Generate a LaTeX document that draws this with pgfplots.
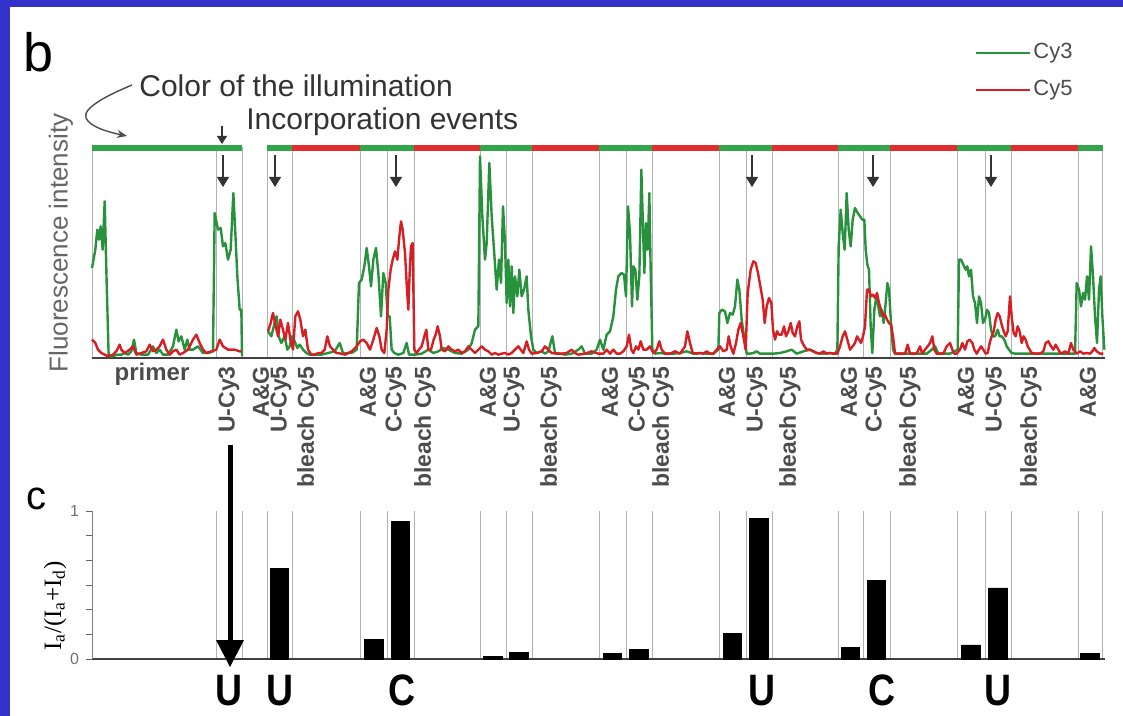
\documentclass[border=0pt]{standalone}
\usepackage{fontspec}
\setmainfont{Liberation Sans}
\newfontfamily\serif{Liberation Serif}
\usepackage{pgfplots}
\pgfplotsset{compat=1.18}
\usetikzlibrary{arrows.meta}
\definecolor{frame}{RGB}{51,51,204}
\definecolor{cythree}{RGB}{40,145,60}
\definecolor{cyfive}{RGB}{215,30,35}
\definecolor{illg}{RGB}{50,165,75}
\definecolor{illr}{RGB}{225,45,45}
\begin{document}
\begin{tikzpicture}
\begin{scope}[x=0.5pt,y=-0.5pt]
\fill[frame] (0,0) rectangle (1123,716);
\fill[white] (10,7) rectangle (1123,716);
\end{scope}

% ---------------- top panel (b) ----------------
\begin{axis}[
  at={(46pt,-179pt)}, anchor=south west, scale only axis,
  width=506.5pt, height=105.5pt,
  xmin=0, xmax=3039, ymin=0, ymax=633, clip=false,
  axis x line*=bottom, axis y line=none,
  x axis line style={black!75, line width=0.8pt},
  xtick={0,372,450,525,600,804,885,966,1164,1242,1320,1521,1602,1680,1881,1962,2040,2238,2313,2394,2595,2679,2757,2958,3030},
  xticklabels={}, xtick style={draw=none},
  xmajorgrids, major x grid style={black!30, line width=0.5pt},
  ytick=\empty, unbounded coords=jump,
]
% illumination colour bar
\addplot[illg, line width=2.6pt, line cap=butt, forget plot] coordinates {
(0,630)(450,630)(487,nan)(525,630)(600,630)(700,nan)(804,630)(966,630)(1060,nan)
(1164,630)(1320,630)(1420,nan)(1521,630)(1680,630)(1780,nan)(1881,630)(2040,630)(2140,nan)
(2238,630)(2394,630)(2490,nan)(2595,630)(2757,630)(2850,nan)(2958,630)(3033,630)};
\addplot[illr, line width=2.6pt, line cap=butt, forget plot] coordinates {
(600,630)(804,630)(880,nan)(966,630)(1164,630)(1240,nan)(1320,630)(1521,630)(1600,nan)
(1680,630)(1881,630)(1960,nan)(2040,630)(2238,630)(2310,nan)(2394,630)(2595,630)(2670,nan)
(2757,630)(2958,630)};
% Cy3 trace
\addplot[cythree, line width=1.2pt, line join=round, no markers] coordinates {
(0,270)(10,325)(16,385)(21,355)(26,395)(32,325)(38,470)(44,225)(50,5)(58,5)(78,10)(88,10)(98,15)(108,10)(118,20)(126,55)(133,15)(148,10)(168,10)(183,35)(193,15)(203,25)(213,10)(228,10)(243,35)(253,85)(260,50)(268,65)(278,25)(286,55)(293,25)(303,25)(318,35)(333,15)(348,15)(363,20)(368,435)(378,385)(386,390)(393,335)(400,345)(408,295)(416,325)(424,495)(430,375)(436,245)(443,145)(448,145)(450,5)
(487,nan)
(528,80)(538,65)(548,105)(554,125)(560,65)(568,45)(578,65)(586,25)(593,35)(600,65)(608,50)(616,30)(623,40)(633,25)(643,15)(653,10)(668,10)(688,10)(708,15)(728,20)(743,45)(753,15)
(779,15)(794,25)(801,225)(809,235)(817,275)(824,330)(831,275)(837,215)(844,295)(852,330)(859,255)(867,125)(874,255)(881,225)(887,125)(893,125)(899,25)(907,15)(919,10)(934,15)(944,45)(951,10)(969,10)(989,13)(1009,25)(1024,15)(1039,20)(1054,30)(1069,25)(1089,15)(1109,13)(1129,25)(1139,45)(1149,85)(1159,95)(1164,605)(1171,425)(1179,295)(1184,345)(1192,585)(1199,425)(1206,325)(1214,205)(1221,295)(1227,225)(1233,455)(1239,345)(1244,165)(1249,295)(1254,155)(1259,275)(1264,135)(1269,245)(1276,185)(1282,265)(1289,185)(1296,205)(1304,245)(1309,145)(1317,65)(1324,25)(1334,15)(1349,20)(1359,13)(1369,20)(1381,65)(1389,15)(1404,13)(1419,10)(1439,13)(1459,25)(1469,35)(1479,13)(1499,13)(1514,25)
(1524,55)(1534,25)(1544,70)(1554,80)(1564,125)(1572,205)(1579,245)(1589,255)(1596,250)(1602,185)(1608,455)(1614,375)(1620,155)(1624,275)(1630,265)(1636,175)(1642,245)(1648,565)(1652,425)(1657,255)(1662,405)(1667,325)(1672,495)(1676,265)(1681,25)(1689,13)(1704,15)(1724,13)(1744,13)(1764,15)(1784,20)(1804,13)(1824,15)(1844,13)(1864,13)(1879,25)(1882,135)(1889,145)(1899,140)(1906,105)(1914,135)(1922,130)(1929,155)(1936,235)(1942,205)(1949,115)(1956,65)(1964,13)(1974,13)(1984,15)(1994,20)(2004,13)(2024,13)(2044,13)(2064,15)(2084,20)(2099,25)(2114,13)(2134,20)(2154,25)(2174,15)(2194,13)(2214,15)(2229,13)(2236,25)(2240,335)(2246,445)(2252,375)(2258,325)(2264,495)(2270,385)(2276,335)(2282,415)(2289,450)
(2297,435)(2304,425)(2311,415)(2317,415)(2321,325)(2326,280)(2331,265)(2336,95)(2341,15)(2347,145)(2353,185)(2359,155)(2364,125)(2369,145)(2375,105)(2381,165)(2386,225)(2391,205)(2397,105)(2403,25)(2409,13)(2439,13)(2469,13)(2504,13)(2519,25)(2529,35)(2539,13)(2574,13)(2597,25)(2601,295)(2607,295)(2614,280)(2621,265)(2626,275)(2631,245)(2637,265)(2643,185)(2649,165)(2655,105)(2661,185)(2667,165)(2673,105)(2679,115)(2685,145)(2691,135)(2697,85)(2703,65)(2709,65)(2717,85)(2723,65)(2729,65)(2737,55)(2744,35)(2751,25)(2759,15)(2769,13)(2809,13)(2849,13)(2889,13)(2929,13)(2949,13)(2954,225)(2961,205)(2967,155)(2973,195)(2979,175)(2985,245)(2991,175)(2997,335)(3003,245)(3009,125)(3015,45)(3021,205)(3026,245)(3031,125)(3037,25)};
% Cy5 trace
\addplot[cyfive, line width=1.2pt, line join=round, no markers] coordinates {
(0,55)(10,45)(18,25)(28,15)(38,10)(48,5)(63,10)(73,20)(83,40)(88,25)(98,15)(113,25)(123,35)(133,10)(148,15)(163,20)(173,40)(183,20)(193,25)(203,35)(213,55)(223,25)(233,10)(243,20)(253,25)(263,10)(273,15)(288,25)(303,55)(313,70)(323,45)(333,25)(343,15)(358,20)(373,25)(383,55)(393,35)(408,25)(428,25)(443,20)(448,20)
(487,nan)
(528,80)(536,105)(543,135)(550,100)(558,65)(565,115)(573,85)(580,55)(588,105)(595,55)(603,25)(610,125)(618,140)(625,115)(633,65)(640,85)(648,25)(658,10)(668,10)(678,15)(688,15)(698,25)(706,65)(714,35)(723,25)(733,15)(748,13)
(759,10)(779,20)(794,35)(804,50)(814,55)(824,45)(834,25)(844,55)(854,90)(862,65)(869,25)(877,15)(884,85)(889,205)(896,265)(902,295)(909,320)(916,295)(922,365)(927,410)(932,385)(939,315)(945,205)(949,145)(953,255)(957,335)(962,345)(967,25)(974,15)(981,25)(989,35)(997,65)(1003,85)(1009,25)(1017,25)(1025,55)(1031,70)(1037,95)(1044,65)(1049,25)(1059,20)(1069,35)(1079,25)(1089,20)(1099,25)(1109,15)(1119,20)(1129,35)(1139,25)(1149,15)(1159,25)(1169,35)(1179,25)(1189,20)(1199,10)(1209,15)(1219,10)(1229,13)(1239,15)(1249,10)(1259,15)(1269,25)(1279,35)(1286,25)(1294,15)(1304,50)(1311,25)(1319,13)(1334,15)(1349,20)(1359,35)(1369,25)(1379,15)(1394,13)(1409,13)(1424,15)(1439,25)(1449,15)(1459,10)(1479,13)(1499,20)(1519,13)
(1524,13)(1534,13)(1544,25)(1554,13)(1564,25)(1574,13)(1584,13)(1594,20)(1604,35)(1611,70)(1618,25)(1624,15)(1632,35)(1639,25)(1646,50)(1654,25)(1664,25)(1674,35)(1684,15)(1694,25)(1702,50)(1709,25)(1719,13)(1734,13)(1749,20)(1764,13)(1779,35)(1786,80)(1794,45)(1802,15)(1814,13)(1824,15)(1834,13)(1844,20)(1854,13)(1864,13)(1874,25)(1884,35)(1894,20)(1904,25)(1910,65)(1916,35)(1924,13)(1932,45)(1939,85)(1946,105)(1954,65)(1961,25)(1967,195)(1976,265)(1984,290)(1991,285)(1998,255)(2005,215)(2012,175)(2018,105)(2024,155)(2031,180)(2038,165)(2043,85)(2049,55)(2055,80)(2061,70)(2069,70)(2076,95)(2082,65)(2089,80)(2096,105)(2102,75)(2109,65)(2116,95)(2122,110)(2127,55)(2134,40)(2144,25)(2154,25)(2164,20)(2174,15)(2184,13)(2194,20)(2204,13)(2214,15)(2224,13)(2236,13)(2244,35)(2252,65)(2259,80)(2266,55)(2274,25)(2282,35)
(2289,45)(2295,65)(2301,55)(2307,45)(2313,65)(2319,95)(2325,205)(2331,205)(2337,185)(2343,190)(2349,180)(2355,195)(2361,165)(2367,145)(2373,125)(2379,130)(2385,115)(2391,105)(2397,100)(2403,65)(2409,13)(2419,13)(2429,13)(2439,13)(2447,40)(2454,13)(2464,13)(2474,13)(2484,35)(2491,13)(2499,25)(2507,35)(2514,45)(2521,65)(2527,25)(2534,13)(2544,13)(2554,13)(2564,35)(2574,45)(2581,25)(2587,13)(2594,13)(2604,25)(2611,45)(2619,25)(2626,50)(2633,55)(2641,45)(2647,25)(2654,13)(2661,25)(2667,35)(2674,25)(2681,13)(2687,15)(2693,45)(2699,65)(2705,80)(2711,115)(2717,135)(2723,125)(2729,100)(2735,80)(2741,65)(2747,80)(2754,185)(2759,125)(2765,75)(2771,65)(2777,95)(2783,80)(2789,45)(2795,65)(2801,55)(2807,35)(2813,25)(2819,15)(2829,13)(2844,13)(2854,20)(2861,45)(2869,50)(2877,35)(2884,25)(2891,40)(2899,25)(2907,13)(2919,20)(2929,13)(2937,45)(2944,25)(2954,13)(2964,20)(2974,13)(2984,15)(2994,13)(3001,20)(3007,30)(3014,20)(3024,13)(3034,13)};
\end{axis}

% ---------------- bottom panel (c) ----------------
\begin{axis}[
  at={(46pt,-329.5pt)}, anchor=south west, scale only axis,
  width=506.5pt, height=74pt,
  xmin=0, xmax=3039, ymin=0, ymax=1, clip=false,
  axis x line*=bottom, axis y line*=left,
  x axis line style={black!75, line width=0.8pt},
  y axis line style={black!50, line width=0.5pt},
  xtick={372,450,525,600,804,885,966,1164,1242,1320,1521,1602,1680,1881,1962,2040,2238,2313,2394,2595,2679,2757,2958,3030},
  xticklabels={}, xtick style={draw=none},
  xmajorgrids, major x grid style={black!30, line width=0.5pt},
  ytick={0,0.16667,0.33333,0.5,0.66667,0.83333,1},
  yticklabels={0,,,,,,1},
  tick align=outside, ytick style={black!60, line width=0.5pt},
  major tick length=3pt,
  yticklabel style={font=\fontsize{8}{8}\selectfont, text=black!55},
  /pgf/number format/assume math mode=true,
]
\addplot[ybar, bar width=56, fill=black, draw=black] coordinates {
(562,0.61)(845,0.13)(925,0.93)(1203,0.02)(1281,0.045)(1561,0.04)(1641,0.065)
(1921,0.17)(2001,0.95)(2275,0.08)(2353,0.53)(2637,0.095)(2718,0.48)(2994,0.04)};
\end{axis}

% ---------------- annotations ----------------
\begin{scope}[x=0.5pt,y=-0.5pt]
\node[anchor=base west, inner sep=0, font=\fontsize{27}{27}\selectfont] at (23,72) {b};
\node[anchor=base west, inner sep=0, font=\fontsize{20}{20}\selectfont] at (26,509) {c};
\node[anchor=base west, inner sep=0, font=\fontsize{15}{15}\selectfont, text=black!80] at (139,97) {Color of the illumination};
\node[anchor=base west, inner sep=0, font=\fontsize{15}{15}\selectfont, text=black!80] at (246,130) {Incorporation events};
\draw[black!70, line width=0.7pt, -{Stealth[length=5pt,width=4pt]}] (132,85) .. controls (108,95) and (82,108) .. (86,118) .. controls (90,127) and (108,132) .. (127,136);
\draw[black!80, line width=0.6pt, -{Triangle[length=4pt,width=5pt]}] (222,126) -- (222,144);
\foreach \xx in {223,275,396,752,873,991}
  \draw[black!80, line width=0.6pt, -{Triangle[length=5pt,width=6pt]}] (\xx,155) -- (\xx,187);
% legend
\draw[cythree, line width=1pt] (976,53) -- (1030,53);
\node[anchor=west, inner sep=1pt, font=\fontsize{11}{11}\selectfont, text=black!70] at (1031,53) {Cy3};
\draw[cyfive, line width=1pt] (976,90) -- (1030,90);
\node[anchor=west, inner sep=1pt, font=\fontsize{11}{11}\selectfont, text=black!70] at (1031,90) {Cy5};
% axis labels
\node[rotate=90, inner sep=0, font=\fontsize{13}{13}\selectfont, text=black!60] at (61,243) {Fluorescence intensity};
\node[rotate=90, inner sep=0, font=\serif\fontsize{12.5}{12.5}\selectfont] at (55,606) {I\textsubscript{a}/(I\textsubscript{a}+I\textsubscript{d})};
% category labels
\node[inner sep=0, font=\bfseries\fontsize{12}{12}\selectfont, text=black!70] at (152,374) {primer};
\foreach \xx/\lab in {229/U-Cy3,261/A\&G,281/U-Cy5,308/bleach Cy5,368/A\&G,396/C-Cy5,425/bleach Cy5,488/A\&G,514/U-Cy5,551/bleach Cy5,610/A\&G,639/C-Cy5,663/bleach Cy5,727/A\&G,757/U-Cy5,790/bleach Cy5,849/A\&G,876/C-Cy5,910/bleach Cy5,966/A\&G,996/U-Cy5,1031/bleach Cy5,1088/A\&G}
  \node[rotate=90, anchor=east, inner sep=0, font=\bfseries\fontsize{11.5}{11.5}\selectfont, text=black!70] at (\xx,366) {\lab};
% big arrow
\draw[line width=2.5pt] (230,445) -- (230,645);
\fill (216,640) -- (244,640) -- (230,667) -- cycle;
% base letters
\foreach \xx/\lab in {229/U,280/U,402/C,762/U,882/C,998/U}
  \node[anchor=base, inner sep=0, xscale=0.85, font=\bfseries\fontsize{22}{22}\selectfont] at (\xx,705) {\lab};
\end{scope}
\pgfresetboundingbox
\path[use as bounding box] (0pt,0pt) rectangle (561.5pt,-358pt);
\end{tikzpicture}
\end{document}
